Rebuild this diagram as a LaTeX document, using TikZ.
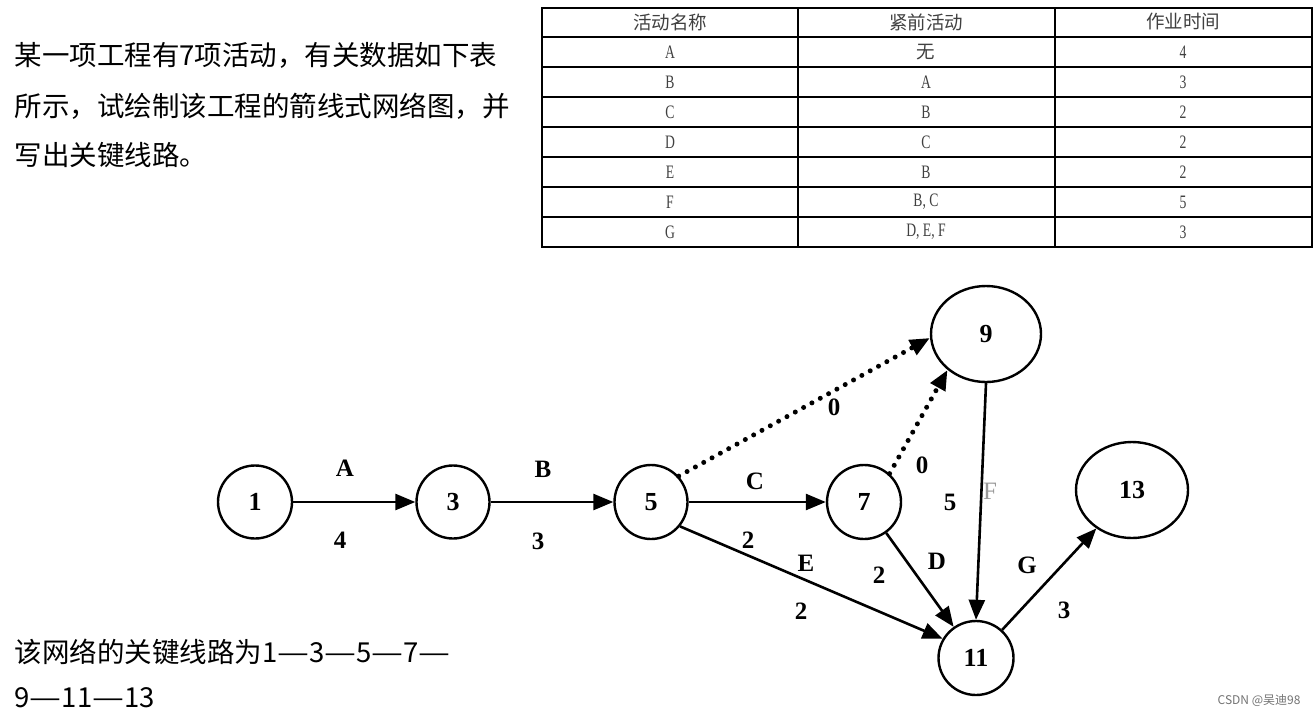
\documentclass[tikz,border=0pt]{standalone}
\usepackage{fontspec}
\setmainfont{Liberation Serif}
\newfontfamily\cjk{Noto Sans CJK SC}
\usetikzlibrary{arrows.meta,shapes.geometric}
\newcommand\wdash{\scalebox{1.3}[1]{—}}
\begin{document}
\begin{tikzpicture}[x=1pt,y=-1pt,
  ev/.style={ellipse,draw,line width=2.4pt,inner sep=0pt,font=\fontsize{26}{28}\selectfont\bfseries},
  act/.style={line width=2.6pt,-{Triangle[length=20pt,width=16pt]}},
  dum/.style={line width=5pt,line cap=round,dash pattern=on 0pt off 9.5pt,-{Triangle[length=20pt,width=16pt,line cap=butt]}},
  lab/.style={font=\fontsize{25}{27}\selectfont\bfseries},
  para/.style={anchor=west,font=\cjk\fontsize{27.5}{30}\selectfont},
  th/.style={font=\cjk\fontsize{18.5}{20}\selectfont,text=black!75},
  td/.style={font=\fontsize{19}{21}\selectfont,text=black!75,xscale=0.72}
]
\useasboundingbox[fill=white] (0,0) rectangle (1316,718);

% problem text
\node[para] (t1) at (11,55) {某一项工程有7项活动，有关数据如下表};
\node[para] (t2) at (11,106) {所示，试绘制该工程的箭线式网络图，并};
\node[para] (t3) at (11,155) {写出关键线路。};

% table
\draw[line width=1.8pt] (542,8) rectangle (1312,247);
\foreach \y in {37,67,97,127,157,187,217}
  \draw[line width=1.1pt] (542,\y) -- (1312,\y);
\foreach \x in {798,1055}
  \draw[line width=1.4pt] (\x,8) -- (\x,247);
\node[th] (h1) at (670,22) {活动名称};
\node[th] (h2) at (926,22) {紧前活动};
\node[th] (h3) at (1183,22) {作业时间};
\node[td] (ra1) at (670,52) {A};
\node[th] (rb1) at (926,52) {无};
\node[td] (rc1) at (1183,52) {4};
\foreach \i/\a/\b/\c in {2/B/A/3,3/C/B/2,4/D/C/2,5/E/B/2,6/F/{B, C}/5,7/G/{D, E, F}/3}{
  \node[td] (ra\i) at (670,22+30*\i) {\a};
  \node[td] (rb\i) at (926,22+30*\i) {\b};
  \node[td] (rc\i) at (1183,22+30*\i) {\c};
}

% events
\node[ev,minimum width=74pt,minimum height=73pt] (n1) at (255,502) {1};
\node[ev,minimum width=73pt,minimum height=73pt] (n3) at (453,502) {3};
\node[ev,minimum width=73pt,minimum height=74pt] (n5) at (651,502) {5};
\node[ev,minimum width=74pt,minimum height=74pt] (n7) at (864,502) {7};
\node[ev,minimum width=110pt,minimum height=96pt] (n9) at (986,334) {9};
\node[ev,minimum width=75pt,minimum height=74pt] (n11) at (976,658) {11};
\node[ev,minimum width=112pt,minimum height=96pt] (n13) at (1132,490) {13};

% activities
\draw[act] (n1.east) -- (n3.west);
\draw[act] (n3.east) -- (n5.west);
\draw[act] (n5.east) -- (n7.west);
\draw[act] (n5.-40) -- (n11.150);
\draw[act] (n7) -- (n11);
\draw[act] (n9.south) -- (n11.north);
\draw[act] (n11) -- (n13);
\draw[dum] (n5.43) -- (n9.184);
\draw[dum] (n7.48) -- (n9.223);

% labels
\node[lab] (lA) at (345,468) {A};
\node[lab] (l4) at (340,540) {4};
\node[lab] (lB) at (543,469) {B};
\node[lab] (l3) at (538,541) {3};
\node[lab] (lC) at (755,481) {C};
\node[lab] (l0a) at (834,407) {0};
\node[lab] (l0b) at (922,465) {0};
\node[lab] (l5) at (950,502) {5};
\node[lab,text=black!40,font=\fontsize{25}{27}\selectfont] (lF) at (990,491) {F};
\node[lab] (l2a) at (748,540) {2};
\node[lab] (lE) at (806,563) {E};
\node[lab] (l2b) at (801,611) {2};
\node[lab] (l2c) at (879,575) {2};
\node[lab] (lD) at (937,561) {D};
\node[lab] (lG) at (1027,565) {G};
\node[lab] (l3b) at (1064,610) {3};

% answer
\node[para] (t4) at (11,652) {该网络的关键线路为1\wdash 3\wdash 5\wdash 7\wdash};
\node[para] (t5) at (11,698) {9\wdash 11\wdash 13};

% watermark
\node[font=\cjk\fontsize{12}{14}\selectfont,text=black!55,anchor=east] (wm) at (1304,701) {CSDN @吴迪98};
\end{tikzpicture}
\end{document}
